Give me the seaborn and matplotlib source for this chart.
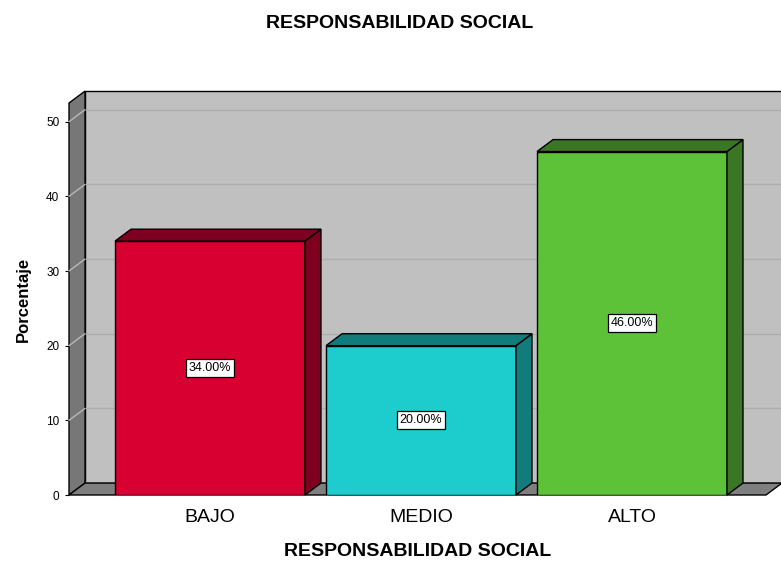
import matplotlib
matplotlib.use("Agg")
import matplotlib.pyplot as plt
from matplotlib.patches import Polygon
import seaborn as sns
import pandas as pd

categories = ["BAJO", "MEDIO", "ALTO"]
percentages = [34.0, 20.0, 46.0]
face_colors = ["#D70030", "#1DCDCD", "#5EC238"]
shade_colors = ["#7E0020", "#127C7C", "#3A7623"]
y_ticks = [0, 10, 20, 30, 40, 50]

sns.set_theme(style="white")
plt.rcParams["font.family"] = ["Liberation Sans", "DejaVu Sans"]
plt.rcParams["text.color"] = "black"
plt.rcParams["axes.labelcolor"] = "black"

df = pd.DataFrame({"nivel": categories, "pct": percentages})

W, H = 781, 566
fig = plt.figure(figsize=(W / 100, H / 100), dpi=100)
fig.patch.set_facecolor("white")
ax = fig.add_axes([69 / W, 1 - 495 / H, (766 - 69) / W, (495 - 103) / H])
ax.patch.set_visible(False)

sns.barplot(data=df, x="nivel", y="pct", hue="nivel", order=categories,
            hue_order=categories, palette=face_colors, saturation=1,
            width=0.9, edgecolor="black", linewidth=1, legend=False,
            ax=ax, zorder=3)

x0, x1 = -0.668, 2.635
ymax = 52.5
ax.set_xlim(x0, x1)
ax.set_ylim(0, ymax)

# depth offset of the pseudo-3D box (data units)
dx, dy = 0.076, 1.6

def poly(pts, fc, z):
    ax.add_patch(Polygon(pts, closed=True, facecolor=fc, edgecolor="black",
                         linewidth=1, zorder=z, clip_on=False))

# back wall, left wall and floor
poly([(x0 + dx, dy), (x1 + dx, dy), (x1 + dx, ymax + dy), (x0 + dx, ymax + dy)],
     "#C0C0C0", 0)
poly([(x0, 0), (x0 + dx, dy), (x0 + dx, ymax + dy), (x0, ymax)], "#777777", 1)
poly([(x0, 0), (x1, 0), (x1 + dx, dy), (x0 + dx, dy)], "#7F7F7F", 1)

for v in y_ticks[1:]:
    ax.plot([x0 + dx, x1 + dx], [v + dy, v + dy], color="#AEAEAE", lw=1,
            zorder=0.5, clip_on=False)
    ax.plot([x0, x0 + dx], [v, v + dy], color="#B8B8B8", lw=1,
            zorder=1.5, clip_on=False)

# side and top faces of each bar, plus value labels
for patch, shade, val in zip(ax.patches[:len(categories)], shade_colors, percentages):
    x = patch.get_x()
    w = patch.get_width()
    h = patch.get_height()
    poly([(x + w, 0), (x + w + dx, dy), (x + w + dx, h + dy), (x + w, h)], shade, 3)
    poly([(x, h), (x + w, h), (x + w + dx, h + dy), (x + dx, h + dy)], shade, 3)
    ax.text(x + w / 2, h / 2, f"{val:.2f}%", ha="center", va="center",
            fontsize=9, color="black", zorder=6,
            bbox=dict(boxstyle="square,pad=0.25", facecolor="white",
                      edgecolor="black", linewidth=0.9))

for s in ax.spines.values():
    s.set_visible(False)

ax.set_yticks(y_ticks)
ax.set_yticklabels([str(t) for t in y_ticks])
ax.tick_params(axis="y", left=True, length=3, width=0.8, color="black",
               labelsize=8.5, pad=4, labelcolor="black")
ax.tick_params(axis="x", bottom=False, length=0, labelsize=14, pad=10,
               labelcolor="black")

ax.set_xlabel("RESPONSABILIDAD SOCIAL", fontsize=14, fontweight="bold",
              labelpad=12, color="black")
ax.set_ylabel("Porcentaje", fontsize=12, fontweight="bold", labelpad=11,
              color="black")
fig.text(400 / W, 1 - 23 / H, "RESPONSABILIDAD SOCIAL", ha="center",
         va="center", fontsize=14, fontweight="bold", color="black")

fig.savefig("out.png", dpi=100, facecolor="white")
